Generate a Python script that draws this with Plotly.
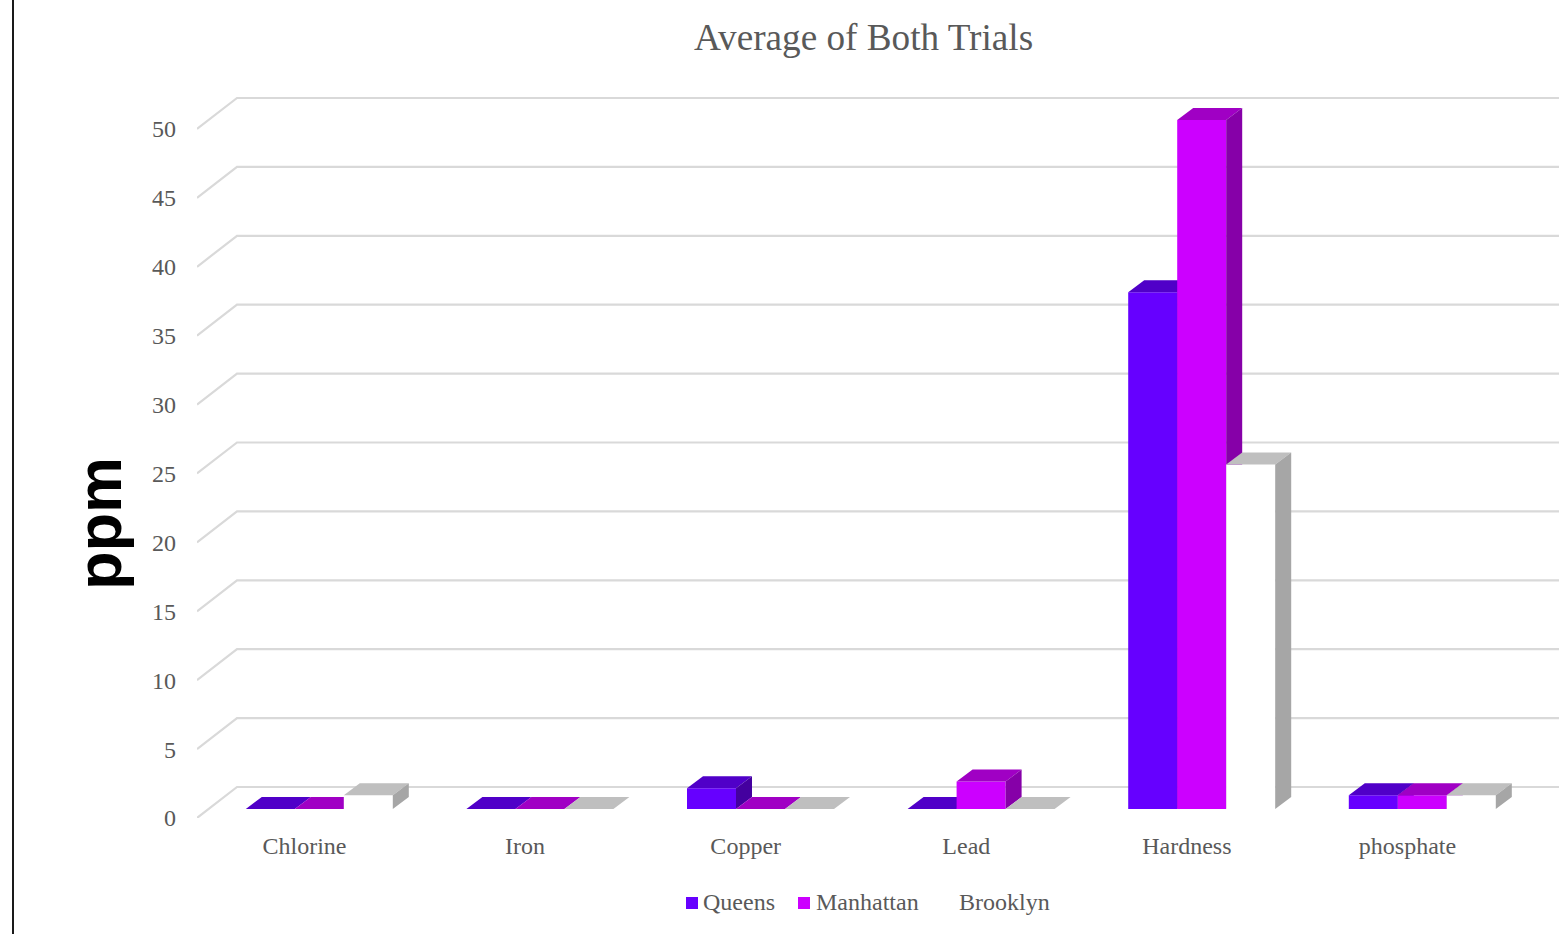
import plotly.graph_objects as go

# Chart data (ppm)
categories = ["Chlorine", "Iron", "Copper", "Lead", "Hardness", "phosphate"]
queens = [0, 0, 1.5, 0, 37.5, 1]
manhattan = [0, 0, 0, 2, 50, 1]
brooklyn = [1, 0, 0, 0, 25, 1]
y_ticks = list(range(0, 55, 5))

# Figure geometry in pixels
W, H = 1567, 934
PLOT_L, PLOT_R, PLOT_T, PLOT_B = 197, 1559, 90, 818
PX_PER_CATEGORY = 220.6
PX_PER_PPM = 13.78
LABEL_ORIGIN_X = 304.5    # front-wall pixel of the first category
BAR_ORIGIN_X = 319.3      # pixel centre of the first bar cluster
BAR_BASE_Y = 809          # pixel of ppm 0 on the bar front plane
BAR_PX = 49
BAR_DEPTH = (16, 12)      # receding offset of a column, in pixels
WALL_DEPTH = (40, 31)     # receding offset from front edge to back wall

TEXT = "#595959"
GRID = "#d9d9d9"
SERIF = "Liberation Serif, Times New Roman, serif"

x_span = (PLOT_R - PLOT_L) / PX_PER_CATEGORY
y_span = (PLOT_B - PLOT_T) / PX_PER_PPM
base_x_range = [(PLOT_L - LABEL_ORIGIN_X) / PX_PER_CATEGORY]
base_x_range.append(base_x_range[0] + x_span)
bar_x_range = [(PLOT_L - BAR_ORIGIN_X) / PX_PER_CATEGORY]
bar_x_range.append(bar_x_range[0] + x_span)
bar_y_range = [-(PLOT_B - BAR_BASE_Y) / PX_PER_PPM]
bar_y_range.append(bar_y_range[0] + y_span)

series = [
    ("Queens", queens, "#6600ff", "#5000c8", "#44009f"),
    ("Manhattan", manhattan, "#cc00ff", "#a000c4", "#8600a8"),
    ("Brooklyn", brooklyn, "#ffffff", "#bfbfbf", "#a6a6a6"),
]

fig = go.Figure()

# Back-wall gridlines with their receding stubs towards the value axis
grid_x, grid_y = [], []
wall_dx = WALL_DEPTH[0] / PX_PER_CATEGORY
wall_dy = WALL_DEPTH[1] / PX_PER_PPM
for v in y_ticks:
    grid_x += [base_x_range[0], base_x_range[0] + wall_dx, base_x_range[1], None]
    grid_y += [v, v + wall_dy, v + wall_dy, None]
fig.add_trace(go.Scatter(
    x=grid_x, y=grid_y, mode="lines", line=dict(color=GRID, width=2.2),
    hoverinfo="skip", showlegend=False,
))

# Each series sits on its own overlaying axes, so that later columns
# paint over the side faces of the ones to their left
bar_w = BAR_PX / PX_PER_CATEGORY
dx = BAR_DEPTH[0] / PX_PER_CATEGORY
dy = BAR_DEPTH[1] / PX_PER_PPM
for k, (name, values, front, top, side) in enumerate(series):
    xa, ya = f"x{k + 2}", f"y{k + 2}"
    offset = (k - 1.5) * bar_w
    idx = list(range(len(categories)))
    fig.add_trace(go.Bar(
        x=idx, y=values, width=bar_w, offset=offset, name=name,
        marker=dict(color=front, line=dict(width=0)),
        xaxis=xa, yaxis=ya, showlegend=False,
    ))
    top_x, top_y, side_x, side_y = [], [], [], []
    for i, v in zip(idx, values):
        x0 = i + offset
        x1 = x0 + bar_w
        top_x += [x0, x1, x1 + dx, x0 + dx, x0, None]
        top_y += [v, v, v + dy, v + dy, v, None]
        if v > 0:
            side_x += [x1, x1 + dx, x1 + dx, x1, x1, None]
            side_y += [v, v + dy, dy, 0, v, None]
    for fx, fy, color in ((top_x, top_y, top), (side_x, side_y, side)):
        if fx:
            fig.add_trace(go.Scatter(
                x=fx, y=fy, mode="lines", fill="toself", fillcolor=color,
                line=dict(width=0, color=color), hoverinfo="skip",
                showlegend=False, xaxis=xa, yaxis=ya,
            ))


# Paper coordinates are relative to the plot area, not the whole page
def paper_x(px):
    return (px - PLOT_L) / (PLOT_R - PLOT_L)


def paper_y(px):
    return (PLOT_B - px) / (PLOT_B - PLOT_T)


layout = dict(
    width=W, height=H, autosize=False,
    paper_bgcolor="white", plot_bgcolor="white",
    margin=dict(l=PLOT_L, r=W - PLOT_R, t=PLOT_T, b=H - PLOT_B, pad=0),
    font=dict(family=SERIF, size=24, color=TEXT),
    barmode="overlay", showlegend=False,
    xaxis=dict(
        range=base_x_range, tickmode="array", tickvals=list(range(len(categories))),
        ticktext=categories, showgrid=False, zeroline=False, showline=False,
        ticks="", ticklabelstandoff=11, tickfont=dict(size=24, color=TEXT, family=SERIF),
    ),
    yaxis=dict(
        range=[0, y_span], tickmode="array", tickvals=y_ticks,
        showgrid=False, zeroline=False, showline=False,
        ticks="", ticklabelstandoff=20, tickfont=dict(size=24, color=TEXT, family=SERIF),
    ),
)
for k in range(len(series)):
    layout[f"xaxis{k + 2}"] = dict(range=bar_x_range, overlaying="x", visible=False)
    layout[f"yaxis{k + 2}"] = dict(range=bar_y_range, overlaying="y", visible=False)

# Title, axis caption and legend entries
annotations = [
    dict(text="Average of Both Trials", x=paper_x(863), y=paper_y(37),
         font=dict(size=37.2, color=TEXT, family=SERIF)),
    dict(text="<b>ppm</b>", x=paper_x(99), y=paper_y(524), textangle=-90,
         font=dict(size=63, color="#000000", family="Liberation Sans, Arial, sans-serif")),
]
shapes = [
    dict(type="line", xref="paper", yref="paper", x0=paper_x(13), x1=paper_x(13),
         y0=paper_y(H), y1=paper_y(0), line=dict(color="#1a1a1a", width=2)),
]
legend_entries = [("Queens", 686, 702.5, series[0][2]),
                  ("Manhattan", 798, 815.5, series[1][2]),
                  ("Brooklyn", 941, 958.5, series[2][2])]
for name, swatch_px, text_px, color in legend_entries:
    shapes.append(dict(type="rect", xref="paper", yref="paper",
                       x0=paper_x(swatch_px), x1=paper_x(swatch_px + 12),
                       y0=paper_y(909), y1=paper_y(897),
                       fillcolor=color, line=dict(width=0)))
    annotations.append(dict(text=name, x=paper_x(text_px), y=paper_y(902), xanchor="left",
                            font=dict(size=24, color=TEXT, family=SERIF)))
for a in annotations:
    a.update(xref="paper", yref="paper", showarrow=False, borderpad=0, borderwidth=0)
    a.setdefault("xanchor", "center")
    a.setdefault("yanchor", "middle")
layout["annotations"] = annotations
layout["shapes"] = shapes

fig.update_layout(**layout)
fig.write_html("out.html", config=dict(displayModeBar=False))
